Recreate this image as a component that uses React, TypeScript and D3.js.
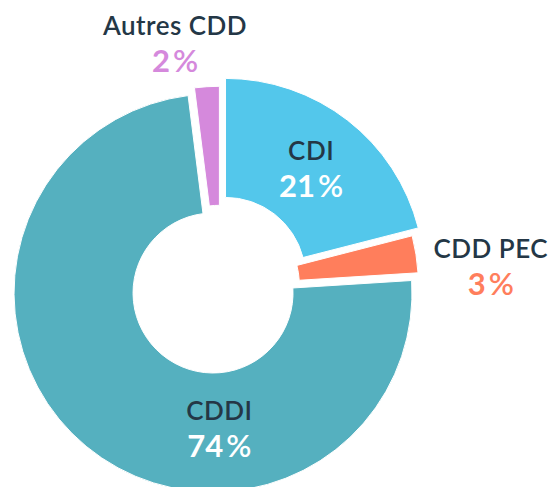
import React, { useEffect, useRef } from 'react';
import * as d3 from 'd3';

// contract types, clockwise from 12 o'clock
const categories = ['CDI', 'CDD PEC', 'CDDI', 'Autres CDD'];
const values = [21, 3, 74, 2];
const colors = ['#53c7eb', '#ff7e5c', '#55b0bf', '#d589dc'];
const pctColors = ['#ffffff', '#ff7e5c', '#ffffff', '#d589dc'];

// pulled-out slices (px) and label anchors (deg clockwise from top, radius from pie centre)
const explode = [10, 0, 10, 0];
const labelAngle = [38, 86, 180, 349.6];
const labelRadius = [149, 272, 143, 246];

const App = () => {
  const ref = useRef<SVGSVGElement>(null);

  useEffect(() => {
    drawChart();
  }, []);

  const drawChart = () => {
    const width = 551;
    const height = 487;
    const cx = 219.4;
    const cy = 285.3;
    const outerRadius = 199;
    const innerRadius = 80;

    d3.select(ref.current).selectAll('*').remove();

    const svg = d3.select(ref.current)
      .attr('width', width)
      .attr('height', height);

    const g = svg.append('g').attr('transform', `translate(${cx},${cy})`);

    const data = categories.map((c, i) => ({ name: c, value: values[i], i }));
    const pie = d3.pie<any>().sort(null).value(d => d.value);
    const arc = d3.arc<any>().innerRadius(innerRadius).outerRadius(outerRadius);

    g.selectAll('.slice')
      .data(pie(data))
      .enter().append('path')
      .attr('class', 'slice')
      .attr('transform', d => {
        const mid = (d.startAngle + d.endAngle) / 2;
        const off = explode[d.data.i];
        return `translate(${off * Math.sin(mid)},${-off * Math.cos(mid)})`;
      })
      .attr('d', arc)
      .attr('fill', d => colors[d.data.i])
      .attr('stroke', '#fff')
      .attr('stroke-width', 1);

    // labels: name on top, percentage below
    const labels = g.selectAll('.label')
      .data(data)
      .enter().append('g')
      .attr('class', 'label')
      .attr('transform', d => {
        const a = labelAngle[d.i] * Math.PI / 180;
        const r = labelRadius[d.i];
        return `translate(${r * Math.sin(a)},${-r * Math.cos(a)})`;
      });

    labels.append('text')
      .attr('y', -8)
      .attr('text-anchor', 'middle')
      .style('font-family', 'Lato, sans-serif')
      .style('font-weight', 600)
      .style('font-size', '26px')
      .style('letter-spacing', '0.5px')
      .attr('fill', '#243746')
      .text(d => d.name);

    const pct = labels.append('text')
      .attr('y', 29)
      .attr('text-anchor', 'middle')
      .style('font-family', 'Lato, sans-serif')
      .style('font-weight', 700)
      .style('font-size', '31px')
      .attr('fill', d => pctColors[d.i]);
    pct.append('tspan').text(d => d.value);
    pct.append('tspan').attr('dx', 3).style('font-weight', 600).text('%');
  };

  return (
    <div style={{ position: 'absolute', left: 0, top: 0 }}>
      <svg ref={ref} style={{ display: 'block' }}></svg>
    </div>
  );
};

export default App;
